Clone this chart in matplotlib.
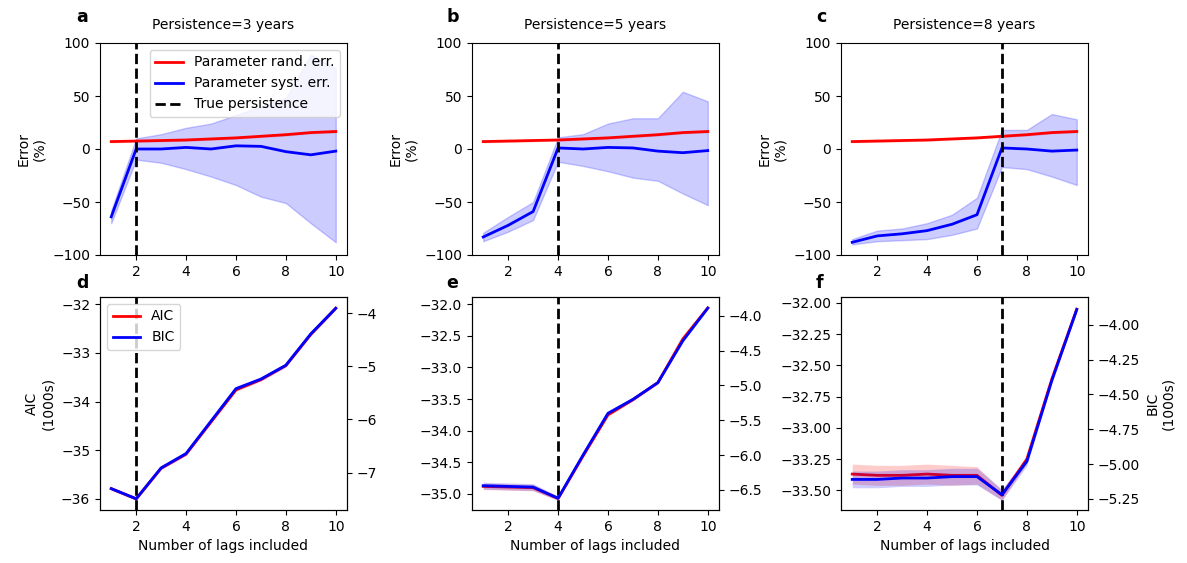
import numpy as np
import matplotlib
matplotlib.use("Agg")
import matplotlib.pyplot as plt

lags = np.arange(1, 11)
persistence_years = [3, 5, 8]
true_lag = [2, 4, 7]
panel_letters_top = ["a", "b", "c"]
panel_letters_bottom = ["d", "e", "f"]

# Random parameter error (%) - mean and spread
rand_err = [
    [7, 7.5, 8, 8.5, 9.5, 10.5, 12, 13.5, 15.5, 16.5],
    [7, 7.5, 8, 8.5, 9.5, 10.5, 12, 13.5, 15.5, 16.5],
    [7, 7.5, 8, 8.5, 9.5, 10.5, 12, 13.5, 15.5, 16.5],
]
rand_sd = [1.2] * 10

# Systematic parameter error (%) with lower/upper range
syst_err = [
    [-64, 0, 0, 1.5, 0, 3, 2.5, -2.5, -5.5, -2],
    [-83, -72, -59, 1, 0, 1.5, 1, -2, -3.5, -1.5],
    [-88, -82, -80, -77, -71, -62, 1, 0, -2, -1],
]
syst_lo = [
    [-70, -10, -13, -19, -26, -34, -45, -51, -70, -88],
    [-87, -78, -67, -12, -16, -21, -27, -30, -42, -53],
    [-90, -87, -86, -85, -81, -75, -17, -19, -26, -34],
]
syst_hi = [
    [-58, 10, 14, 20, 24, 32, 40, 48, 89, 76],
    [-79, -64, -50, 11, 14, 24, 29, 29, 54, 45],
    [-85, -77, -75, -70, -62, -46, 18, 18, 33, 28],
]

# Information criteria (1000s)
aic = [
    [-35.79, -36.00, -35.37, -35.08, -34.42, -33.76, -33.55, -33.26, -32.62, -32.08],
    [-34.88, -34.89, -34.90, -35.07, -34.40, -33.75, -33.51, -33.24, -32.55, -32.06],
    [-33.37, -33.38, -33.38, -33.37, -33.38, -33.38, -33.54, -33.25, -32.61, -32.05],
]
aic_sd = [
    [0.03] * 10,
    [0.05, 0.05, 0.05, 0.03, 0.02, 0.02, 0.02, 0.02, 0.02, 0.02],
    [0.08, 0.08, 0.08, 0.08, 0.08, 0.07, 0.04, 0.03, 0.02, 0.02],
]
bic = [
    [-7.30, -7.49, -6.91, -6.64, -6.03, -5.42, -5.24, -4.98, -4.39, -3.91],
    [-6.44, -6.45, -6.46, -6.62, -6.00, -5.40, -5.20, -4.96, -4.36, -3.89],
    [-5.11, -5.11, -5.10, -5.10, -5.09, -5.09, -5.22, -4.98, -4.40, -3.89],
]
bic_sd = [
    [0.03] * 10,
    [0.05, 0.05, 0.05, 0.03, 0.02, 0.02, 0.02, 0.02, 0.02, 0.02],
    [0.06, 0.06, 0.06, 0.06, 0.06, 0.06, 0.04, 0.03, 0.02, 0.02],
]

W, H = 1187, 563
fig = plt.figure(figsize=(W / 100, H / 100), dpi=100)

lefts = [100, 472, 841]
letter_x = [76, 446, 816]
ax_w = 247
top_row = (43, 255)
bot_row = (297, 510)


def add_ax(left, rows):
    t, b = rows
    return fig.add_axes([left / W, 1 - b / H, ax_w / W, (b - t) / H])


for i in range(3):
    ax = add_ax(lefts[i], top_row)
    re = np.array(rand_err[i])
    sd = np.array(rand_sd)
    ax.fill_between(lags, re - sd, re + sd, color="red", alpha=0.2, lw=0)
    l1, = ax.plot(lags, re, color="red", lw=2, label="Parameter rand. err.")
    ax.fill_between(lags, syst_lo[i], syst_hi[i], color="blue", alpha=0.2, lw=1,
                    edgecolor=(0, 0, 1, 0.15))
    l2, = ax.plot(lags, syst_err[i], color="blue", lw=2, label="Parameter syst. err.")
    l3 = ax.axvline(true_lag[i], color="black", ls="--", lw=2, label="True persistence")
    ax.set_ylim(-100, 100)
    ax.set_yticks([-100, -50, 0, 50, 100])
    ax.set_xticks([2, 4, 6, 8, 10])
    ax.set_ylabel("Error\n(%)")
    ax.set_title(f"Persistence={persistence_years[i]} years", fontsize=10, pad=10)
    fig.text(letter_x[i] / W, 1 - 21.7 / H, panel_letters_top[i],
             fontsize=12.5, fontweight="bold", ha="left", va="baseline")
    if i == 0:
        ax.legend(handles=[l1, l2, l3], loc="upper right")

    axb = add_ax(lefts[i], bot_row)
    a = np.array(aic[i])
    asd = np.array(aic_sd[i])
    axb.fill_between(lags, a - asd, a + asd, color="red", alpha=0.2, lw=0)
    la, = axb.plot(lags, a, color="red", lw=2, label="AIC")
    axb.axvline(true_lag[i], color="black", ls="--", lw=2)
    axb.set_xticks([2, 4, 6, 8, 10])
    axb.set_xlabel("Number of lags included")
    axr = axb.twinx()
    bv = np.array(bic[i])
    bsd = np.array(bic_sd[i])
    axr.fill_between(lags, bv - bsd, bv + bsd, color="blue", alpha=0.2, lw=0)
    lb, = axr.plot(lags, bv, color="blue", lw=2, label="BIC")
    fig.text(letter_x[i] / W, 1 - 287.7 / H, panel_letters_bottom[i],
             fontsize=12.5, fontweight="bold", ha="left", va="baseline")
    if i == 0:
        axb.set_ylabel("AIC\n(1000s)")
        axr.legend(handles=[la, lb], loc="upper left")
    if i == 2:
        axr.set_ylabel("BIC\n(1000s)")

fig.savefig("out.png", dpi=100)
